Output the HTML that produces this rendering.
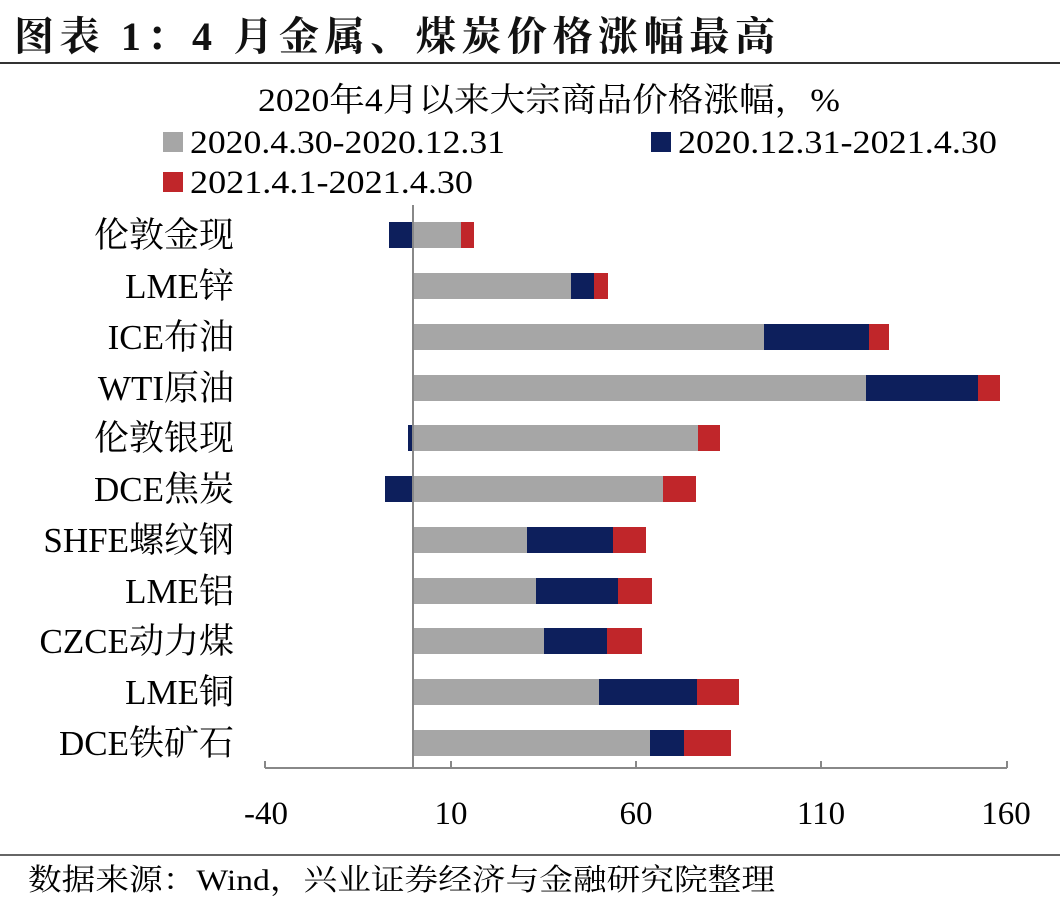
<!DOCTYPE html>
<html><head><meta charset="utf-8"><style>
body{margin:0;background:#fff;width:1060px;height:910px;overflow:hidden;font-family:"Liberation Serif","Noto Serif CJK SC",serif;color:#111}
</style></head><body>
<svg width="1060" height="910" xmlns="http://www.w3.org/2000/svg" font-family="Liberation Serif, Noto Serif CJK SC, serif">
<text x="14" y="50" font-size="40" font-weight="bold" fill="#111" textLength="761" lengthAdjust="spacing">图表 1：4 月金属、煤炭价格涨幅最高</text>
<line x1="0" y1="63" x2="1060" y2="63" stroke="#333" stroke-width="2"/>
<text x="258" y="111" font-size="33" textLength="582" lengthAdjust="spacingAndGlyphs">2020年4月以来大宗商品价格涨幅，%</text>
<rect x="163" y="132" width="20" height="20" fill="#a6a6a6"/>
<text x="190" y="153" font-size="33" textLength="315" lengthAdjust="spacingAndGlyphs">2020.4.30-2020.12.31</text>
<rect x="651" y="132" width="20" height="20" fill="#0d1f5c"/>
<text x="678" y="153" font-size="33" textLength="319" lengthAdjust="spacingAndGlyphs">2020.12.31-2021.4.30</text>
<rect x="163" y="172" width="20" height="20" fill="#c0262a"/>
<text x="190" y="193" font-size="33" textLength="283" lengthAdjust="spacingAndGlyphs">2021.4.1-2021.4.30</text>
<g>
<rect x="389" y="222" width="24" height="26" fill="#0d1f5c"/><rect x="414" y="222" width="47" height="26" fill="#a6a6a6"/><rect x="461" y="222" width="13" height="26" fill="#c0262a"/>
<rect x="414" y="273" width="157" height="26" fill="#a6a6a6"/><rect x="571" y="273" width="23" height="26" fill="#0d1f5c"/><rect x="594" y="273" width="14" height="26" fill="#c0262a"/>
<rect x="414" y="324" width="350" height="26" fill="#a6a6a6"/><rect x="764" y="324" width="105" height="26" fill="#0d1f5c"/><rect x="869" y="324" width="20" height="26" fill="#c0262a"/>
<rect x="414" y="375" width="452" height="26" fill="#a6a6a6"/><rect x="866" y="375" width="112" height="26" fill="#0d1f5c"/><rect x="978" y="375" width="22" height="26" fill="#c0262a"/>
<rect x="408" y="425" width="5" height="26" fill="#0d1f5c"/><rect x="414" y="425" width="284" height="26" fill="#a6a6a6"/><rect x="698" y="425" width="22" height="26" fill="#c0262a"/>
<rect x="385" y="476" width="28" height="26" fill="#0d1f5c"/><rect x="414" y="476" width="249" height="26" fill="#a6a6a6"/><rect x="663" y="476" width="33" height="26" fill="#c0262a"/>
<rect x="414" y="527" width="113" height="26" fill="#a6a6a6"/><rect x="527" y="527" width="86" height="26" fill="#0d1f5c"/><rect x="613" y="527" width="33" height="26" fill="#c0262a"/>
<rect x="414" y="578" width="122" height="26" fill="#a6a6a6"/><rect x="536" y="578" width="82" height="26" fill="#0d1f5c"/><rect x="618" y="578" width="34" height="26" fill="#c0262a"/>
<rect x="414" y="628" width="130" height="26" fill="#a6a6a6"/><rect x="544" y="628" width="63" height="26" fill="#0d1f5c"/><rect x="607" y="628" width="35" height="26" fill="#c0262a"/>
<rect x="414" y="679" width="185" height="26" fill="#a6a6a6"/><rect x="599" y="679" width="98" height="26" fill="#0d1f5c"/><rect x="697" y="679" width="42" height="26" fill="#c0262a"/>
<rect x="414" y="730" width="236" height="26" fill="#a6a6a6"/><rect x="650" y="730" width="34" height="26" fill="#0d1f5c"/><rect x="684" y="730" width="47" height="26" fill="#c0262a"/>
</g>
<line x1="413" y1="205" x2="413" y2="768" stroke="#888" stroke-width="2"/>
<line x1="265" y1="768" x2="1007" y2="768" stroke="#888" stroke-width="2"/>
<g stroke="#888" stroke-width="2">
<line x1="265" y1="761" x2="265" y2="768"/><line x1="451" y1="761" x2="451" y2="768"/><line x1="636" y1="761" x2="636" y2="768"/><line x1="821" y1="761" x2="821" y2="768"/><line x1="1007" y1="761" x2="1007" y2="768"/>
</g>
<g font-size="33" text-anchor="middle">
<text x="266" y="824">-40</text><text x="451" y="824">10</text><text x="636" y="824">60</text><text x="821" y="824">110</text><text x="1006" y="824">160</text>
</g>
<g font-size="35" text-anchor="end">
<text x="234" y="247">伦敦金现</text>
<text x="234" y="298">LME锌</text>
<text x="234" y="349">ICE布油</text>
<text x="234" y="400">WTI原油</text>
<text x="234" y="450">伦敦银现</text>
<text x="234" y="501">DCE焦炭</text>
<text x="234" y="552">SHFE螺纹钢</text>
<text x="234" y="603">LME铝</text>
<text x="234" y="653">CZCE动力煤</text>
<text x="234" y="704">LME铜</text>
<text x="234" y="755">DCE铁矿石</text>
</g>
<line x1="0" y1="855" x2="1060" y2="855" stroke="#333" stroke-width="1.5"/>
<text x="28" y="890" font-size="30" textLength="747" lengthAdjust="spacingAndGlyphs">数据来源：Wind，兴业证券经济与金融研究院整理</text>
</svg>
</body></html>
